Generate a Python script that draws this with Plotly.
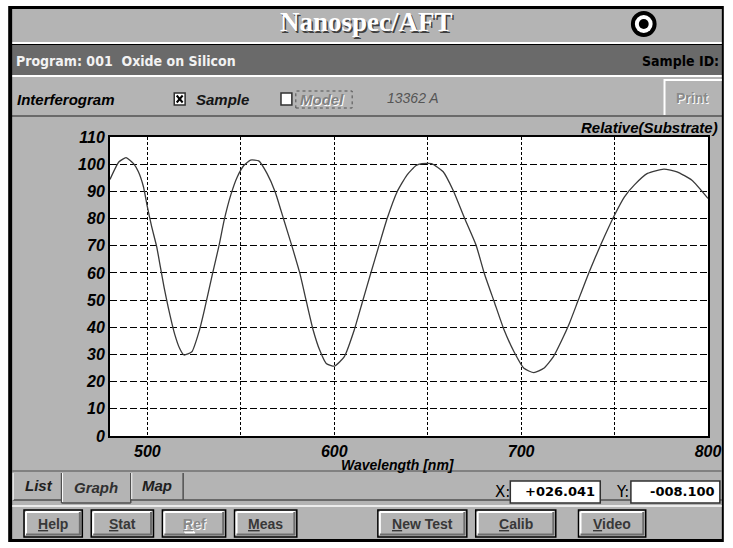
import plotly.graph_objects as go

# ---------------- data ----------------
wavelength_nm = [480, 484.7, 488.6, 492.6, 495.2, 497.9, 500, 502.3, 505, 507, 509, 511.1,
                 514.6, 517.3, 519.6, 523.8, 527.9, 530.5, 534.9, 538.4, 541.1, 544.6, 548.1,
                 551.7, 555.2, 559.6, 564, 568.4, 572.8, 577.2, 581.6, 585.1, 588.7, 592.2,
                 595.7, 600.2, 605.4, 610.7, 615.1, 619.5, 624, 628.3, 633.6, 638.9, 643.8,
                 646.9, 652.1, 658.3, 663.6, 669.8, 675.9, 680.3, 685.6, 690.9, 696.2, 701.5,
                 706.8, 712.1, 717.3, 721.8, 725.8, 730.6, 736.8, 742.9, 750, 755.3, 760.5,
                 767.6, 776.4, 783.4, 791.4, 800]
relative_substrate = [94.4, 100.8, 102.4, 100.2, 97.2, 91.7, 84.3, 77.0, 69.6, 62, 54.5, 47.5,
                      37.5, 32.2, 29.8, 31, 39, 46.3, 59.8, 70.2, 79.4, 88.6, 95.3,
                      99.6, 101.5, 101.2, 96.6, 89.8, 80, 70.2, 59.8, 49.4, 39, 31.6,
                      26.7, 25.7, 29.2, 39, 49.4, 59.8, 70.2, 80, 89.8, 96, 99.5,
                      100.2, 100.2, 97.2, 90.4, 80, 70.2, 59.8, 49.4, 39, 31, 24.9,
                      23.3, 24.9, 29.2, 35.3, 41.4, 50, 61, 70.8, 81.3, 88, 92.3,
                      96.6, 98.2, 97.2, 94.1, 87.4]

x_tick_vals = [500, 550, 600, 650, 700, 750, 800]
x_tick_text = ["500", "", "600", "", "700", "", "800"]
y_tick_vals = [0, 10, 20, 30, 40, 50, 60, 70, 80, 90, 100, 110]
y_tick_text = ["0", "10", "20", "30", "40", "50", "60", "70", "80", "90", "100", "110"]

# ---------------- page geometry helpers ----------------
W, H = 733, 548
ML, MR, MT, MB = 110, 18, 137, 112
PW, PH = W - ML - MR, H - MT - MB


def px(x):
    return (x - ML) / PW


def py(y):
    return (H - MB - y) / PH


shapes = []
annots = []


def rect(x0, y0, x1, y1, fill=None, line=None, lw=1, dash=None):
    s = dict(type="rect", xref="paper", yref="paper", layer="below",
             x0=px(x0), x1=px(x1), y0=py(y1), y1=py(y0),
             fillcolor=fill if fill else "rgba(0,0,0,0)",
             line=dict(color=line if line else "rgba(0,0,0,0)", width=lw if line else 0))
    if dash:
        s["line"]["dash"] = dash
    shapes.append(s)


def seg(x0, y0, x1, y1, color, lw=1):
    shapes.append(dict(type="line", xref="paper", yref="paper", layer="below",
                       x0=px(x0), x1=px(x1), y0=py(y0), y1=py(y1),
                       line=dict(color=color, width=lw)))


def circle(cx, cy, r, fill):
    shapes.append(dict(type="circle", xref="paper", yref="paper", layer="below",
                       x0=px(cx - r), x1=px(cx + r), y0=py(cy + r), y1=py(cy - r),
                       fillcolor=fill, line=dict(width=0)))


def text(x, y, s, size=15, color="black", family="Liberation Sans", bold=False,
         italic=False, anchor="center", shadow=None):
    font = dict(size=size, color=color, family=family,
                weight="bold" if bold else "normal",
                style="italic" if italic else "normal")
    if shadow:
        font["shadow"] = shadow
    annots.append(dict(x=px(x), y=py(y), xref="paper", yref="paper", text=s,
                       showarrow=False, xanchor=anchor, yanchor="middle", font=font))


GRAY = "#b4b4b4"
DARK = "#6a6a6a"
NARROW = "Liberation Sans Narrow, DejaVu Sans Condensed, sans-serif"

# window frame and bands
rect(7, 6, 731, 542, fill="black")
rect(11, 9, 729, 42, fill=GRAY)
seg(11, 43, 729, 43, "white", 2)
rect(11, 45, 729, 75, fill=DARK)
seg(11, 76, 729, 76, "white", 2)
rect(11, 77, 729, 115, fill=GRAY)
seg(11, 116, 729, 116, DARK, 2)
rect(11, 117, 729, 539, fill=GRAY)
# print button edges
seg(671, 79, 671, 115, "white", 2)
seg(671, 80, 729, 80, "white", 2)
# plot area
rect(ML, MT, W - MR, H - MB, fill="white")

# tab strip
seg(11, 471, 729, 471, "#707070", 1.5)
seg(12, 500, 61, 500, "#505050", 1.5)
seg(131, 500, 729, 500, "#505050", 1.5)
seg(61, 503, 131, 503, "#505050", 1.5)
for xv, y0, y1 in [(61, 473, 503), (131, 473, 503), (184, 473, 500)]:
    seg(xv, y0, xv, y1, "#505050", 1.5)
seg(62, 473, 62, 502, "white", 1)
seg(12, 473, 12, 500, "white", 1)
seg(132, 473, 132, 499, "white", 1)
seg(11, 506, 729, 506, "white", 1.5)

# X / Y readout boxes
rect(515, 481, 606, 503, fill="white", line="#303030", lw=1.5)
rect(637, 481, 727, 503, fill="white", line="#303030", lw=1.5)


def button(x0, x1, label, disabled=False):
    y0, y1 = 510, 537
    rect(x0, y0, x1, y1, fill=GRAY, line="black", lw=1.5)
    seg(x0 + 2, y0 + 2, x1 - 2, y0 + 2, "white", 2)
    seg(x0 + 2, y0 + 2, x0 + 2, y1 - 2, "white", 2)
    seg(x0 + 2, y1 - 2.5, x1 - 2, y1 - 2.5, "#6e6e6e", 2)
    seg(x1 - 2.5, y0 + 2, x1 - 2.5, y1 - 2, "#6e6e6e", 2)
    cx, cy = (x0 + x1) / 2, (y0 + y1) / 2
    if disabled:
        text(cx, cy, label, size=14, color="#8a8a8a", bold=True, shadow="1px 1px 0px white")
    else:
        text(cx, cy, label, size=14, color="#383838", bold=True)


button(23, 82, "<u>H</u>elp")
button(91, 154, "<u>S</u>tat")
button(163, 227, "<u>R</u>ef", disabled=True)
button(236, 299, "<u>M</u>eas")
button(381, 471, "<u>N</u>ew Test")
button(480, 561, "<u>C</u>alib")
button(584, 652, "<u>V</u>ideo")

# checkboxes
rect(175, 93, 186, 105, fill="white", line="#303030", lw=1.5)
seg(177.5, 95.5, 183.5, 102.5, "black", 2)
seg(177.5, 102.5, 183.5, 95.5, "black", 2)
rect(283, 93, 294, 105, fill="white", line="#303030", lw=1.5)
rect(298, 91, 355, 108, line="#505050", lw=1, dash="dot")

# target icon
circle(650, 24, 13, "black")
circle(650, 24, 9, "white")
circle(650, 24, 5, "black")

# ---------------- texts ----------------
text(370, 22, "Nanospec/AFT", size=27, color="white", family="Liberation Serif", bold=True,
     shadow="1.5px 1.5px 0px #404040")
text(13, 61, "Program: 001  Oxide on Silicon", size=14, color="#f2f2f2", family=NARROW,
     bold=True, anchor="left")
text(728, 61, "Sample ID:", size=14, color="black", family=NARROW, bold=True, anchor="right")
text(14, 99, "Interferogram", size=15, bold=True, italic=True, anchor="left")
text(195, 99, "Sample", size=15, bold=True, italic=True, anchor="left", color="#151515")
text(300, 99, "Model", size=15, bold=True, italic=True, anchor="left", color="#808080",
     shadow="1px 1px 0px white")
text(388, 98, "13362 A", size=14, italic=True, anchor="left", color="#555555")
text(699, 98, "Print", size=14, bold=True, color="#8a8a8a", shadow="1px 1px 0px white")
text(727, 127, "Relative(Substrate)", size=15, bold=True, italic=True, anchor="right")
text(401, 465, "Wavelength [nm]", size=14, bold=True, italic=True)
text(38, 486, "List", size=15, bold=True, italic=True, color="#202020")
text(96, 488, "Graph", size=15, bold=True, italic=True, color="#303030")
text(158, 486, "Map", size=15, bold=True, italic=True, color="#202020")
text(507, 492, "X:", size=15, color="black", family="DejaVu Sans")
text(628, 492, "Y:", size=15, color="black", family="DejaVu Sans")
text(603, 492, "+026.041", size=13, color="black", family="DejaVu Sans", bold=True, anchor="right")
text(724, 492, "-008.100", size=13, color="black", family="DejaVu Sans", bold=True, anchor="right")

# ---------------- figure ----------------
fig = go.Figure()
fig.add_trace(go.Scatter(x=wavelength_nm, y=relative_substrate, mode="lines",
                         line=dict(color="#3a3a3a", width=1.3, shape="spline", smoothing=0.5),
                         hoverinfo="x+y", showlegend=False))

tickfont = dict(family="Liberation Sans", size=16, color="black", weight="bold", style="italic")
fig.update_layout(
    width=W, height=H, autosize=False,
    margin=dict(l=ML, r=MR, t=MT, b=MB, pad=0),
    paper_bgcolor="white", plot_bgcolor="white",
    shapes=shapes, annotations=annots,
    xaxis=dict(range=[480, 800], tickmode="array", tickvals=x_tick_vals, ticktext=x_tick_text,
               showgrid=True, gridcolor="black", gridwidth=1, griddash="3px,2px",
               showline=True, mirror=True, linecolor="black", linewidth=2,
               ticks="", zeroline=False, tickfont=tickfont, fixedrange=True),
    yaxis=dict(range=[0, 110], tickmode="array", tickvals=y_tick_vals, ticktext=y_tick_text,
               showgrid=True, gridcolor="black", gridwidth=1, griddash="7px,3px",
               showline=True, mirror=True, linecolor="black", linewidth=2,
               ticks="", zeroline=False, tickfont=tickfont, fixedrange=True),
    showlegend=False,
)

fig.write_html("out.html", config={"displayModeBar": False},
               post_script="document.body.style.margin='0';document.body.style.overflow='hidden';")
